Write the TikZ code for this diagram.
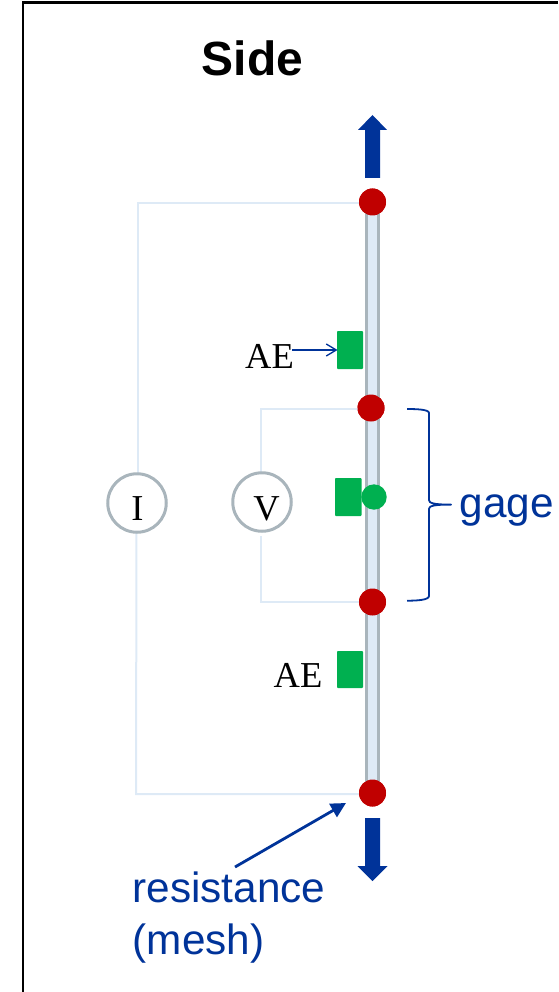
\documentclass[tikz,border=0pt]{standalone}
\usepackage{fontspec}
\setmainfont{Liberation Serif}
\newfontfamily\labelsans{Liberation Sans}
\usetikzlibrary{arrows.meta}
\definecolor{wirecol}{HTML}{DEEAF6}
\definecolor{edgecol}{HTML}{A9B5BC}
\definecolor{bluecol}{HTML}{003399}
\definecolor{greencol}{HTML}{00B050}
\definecolor{redcol}{HTML}{C00000}
\tikzset{
  x=1pt,y=-1pt,
  wire/.style={draw=wirecol,line width=2pt},
  meter/.style={circle,draw=edgecol,fill=white,line width=3pt,inner sep=0pt,minimum size=58.5pt,font=\fontsize{36}{36}\selectfont},
  contact/.style={circle,fill=redcol,draw=none,inner sep=0pt,minimum size=27pt},
  sensor/.style={fill=greencol,rounded corners=0.8pt},
  blocktip/.style={fill=bluecol,draw=none},
  serifl/.style={anchor=base west,inner sep=0pt,font=\fontsize{36.5}{36.5}\selectfont},
  sansl/.style={anchor=base west,inner sep=0pt,text=bluecol,font=\labelsans\fontsize{42.3}{42.3}\selectfont},
}
\begin{document}
\begin{tikzpicture}
\useasboundingbox (0,0) rectangle (558,992);
% frame
\draw[black,line width=2.6pt] (23,992) -- (23,2.5) -- (558,2.5);
% title
\node[anchor=base west,inner sep=0pt,font=\labelsans\bfseries\fontsize{48}{48}\selectfont] (title) at (201.5,76) {Side};
% named places
\node[contact] (d1) at (372.5,202) {};
\node[contact] (d2) at (371,408) {};
\node[contact] (d3) at (372.5,602) {};
\node[contact] (d4) at (372.5,793) {};
\coordinate (w1) at (138,203);
\coordinate (w1e) at (360,203);
\coordinate (w4) at (136,794);
\coordinate (w4e) at (360,794);
\coordinate (w2) at (261,408.5);
\coordinate (w2e) at (360,408.5);
\coordinate (w3) at (261,602);
\coordinate (w3e) at (360,602);
% wires
\draw[wire] (w1e) -- (w1) -- (138,480);
\draw[wire] (136.5,528) -- (w4) -- (w4e);
\draw[wire] (w2e) -- (w2) -- (261,480);
\draw[wire] (261,536) -- (w3) -- (w3e);
\node[meter] (I) at (137,503) {};
\node[meter] (V) at (262,502) {};
\node[serifl,anchor=base] (Ilab) at (137.5,520) {I};
\node[serifl,anchor=base] (Vlab) at (266.5,520.5) {V};
% bar
\fill[wirecol] (365,202) rectangle (380,793);
\draw[edgecol,line width=2.6pt] (366.3,202) -- (366.3,793);
\draw[edgecol,line width=2.6pt] (378.7,202) -- (378.7,793);
% sensors
\path[sensor] (337,331) rectangle (363,369);
\path[sensor] (335,478) rectangle (361.5,516);
\path[sensor] (337,651) rectangle (363,688);
\fill[greencol] (374,497) circle (12.7);
% redraw contacts on top
\node[contact] at (d1) {};
\node[contact] at (d2) {};
\node[contact] at (d3) {};
\node[contact] at (d4) {};
% load arrows
\path[blocktip] (365,178) -- (365,130) -- (358,130) -- (372.5,115) -- (387,130) -- (380,130) -- (380,178) -- cycle;
\path[blocktip] (365,818) -- (365,866) -- (357.5,866) -- (372.5,881) -- (387.5,866) -- (380,866) -- (380,818) -- cycle;
% AE labels
\node[serifl] (ae1) at (245,368) {AE};
\node[serifl] (ae2) at (273.5,687) {AE};
\coordinate (ae1s) at (292,350);
\coordinate (ae1e) at (337.5,350);
\draw[bluecol,line width=1.3pt,-{Straight Barb[length=10pt,width=12pt,line width=1.3pt]}] (ae1s) -- (ae1e);
% gage brace
\draw[bluecol,line width=1.8pt,line join=round]
  (407,409) .. controls (417,409) and (429,409.5) .. (429,413)
  -- (429,500) .. controls (429,503) and (433,504.6) .. (451,504.6)
  .. controls (433,504.6) and (429,506) .. (429,509)
  -- (429,596) .. controls (429,600) and (417,600.7) .. (407,600.7);
\node[sansl] (gage) at (459.5,517) {gage};
% resistance
\node[sansl] (res1) at (132.5,902.5) {resistance};
\node[sansl] (res2) at (132.5,954) {(mesh)};
\coordinate (ra) at (235,867);
\coordinate (rb) at (346,803);
\draw[bluecol,line width=2.8pt,-{Triangle[length=15pt,width=15pt]}] (ra) -- (rb);
\end{tikzpicture}
\end{document}
